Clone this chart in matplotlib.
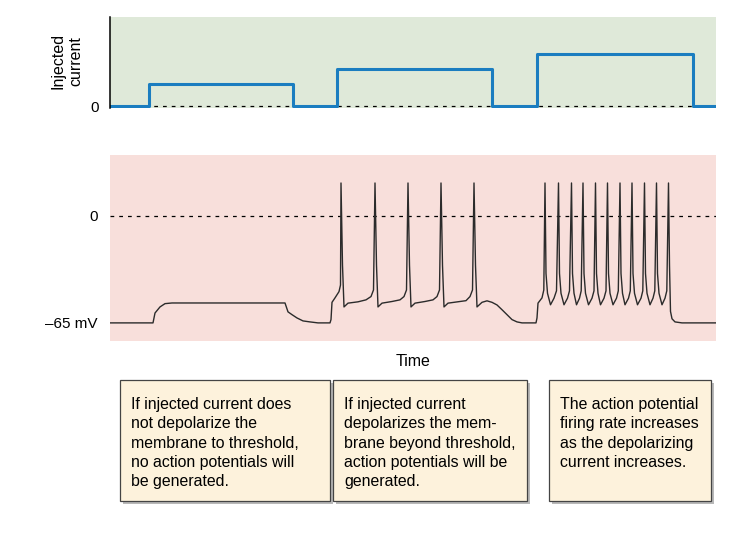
import matplotlib.pyplot as plt
from matplotlib.patches import Rectangle

plt.rcParams['font.family'] = ['Liberation Sans', 'DejaVu Sans']

# Injected current steps (time units, arbitrary current units)
step_edges = [0, 39, 183, 227, 382, 427, 583, 606]
step_levels = [0, 1.0, 0, 1.7, 0, 2.4, 0, 0]

# Membrane potential trace (time, mV)
v_time = [
    # subthreshold step
    0, 43, 45, 50, 55, 62, 175, 178, 182, 187, 193, 200, 208, 220,
    # second step: 5 spikes
    221, 222, 225, 229, 230.5,
    231, 232.5, 234, 238, 248, 256, 261, 263.5,
    265, 266.5, 268, 272, 282, 290, 294, 296.5,
    298, 299.5, 301, 305, 315, 323, 327, 329.5,
    331, 332.5, 334, 338, 348, 356, 360, 362.5,
    364, 365.5, 367, 372, 377, 382, 387, 392, 397, 402, 407, 412, 426,
    # third step: 11 spikes
    427, 428, 432, 433.8,
    435, 436, 437.5, 440.5, 444, 446.5,
    448.5, 449.5, 451, 454, 457.5, 459.5,
    461.5, 462.5, 464, 466.5, 469.5, 471.2,
    473, 474, 475.5, 478.5, 482, 484,
    485.5, 486.5, 488, 490.5, 494, 496,
    497.5, 498.5, 500, 503, 506.5, 508.3,
    510, 511, 512.5, 515, 518.5, 520.3,
    522, 523, 524.5, 527.5, 531, 532.8,
    534.5, 535.5, 537, 540, 543, 544.8,
    546.5, 547.5, 549, 552, 555, 556.8,
    558.5, 559.5, 560.5, 562, 565, 572, 606,
]
v_mv = [
    -65, -65, -59, -55.3, -53.3, -52.9, -52.9, -58.3, -60, -62, -63.8, -64.4, -65, -65,
    -63, -52.5, -49.8, -46, -42,
    20, -30, -55.3, -53, -52.2, -51, -49, -45,
    20, -30, -55.3, -53, -52, -51, -49, -45,
    20, -30, -55.3, -53, -52, -51, -49, -45,
    20, -30, -55.3, -53, -52.2, -51.5, -49, -45,
    20, -30, -55.3, -52.5, -51.6, -52.5, -54.1, -57, -60, -63, -64.4, -65, -65,
    -62, -53, -49.8, -45,
    20, -35, -47, -54, -50, -45.5,
    20, -35, -47, -54, -50, -45.5,
    20, -35, -47, -54, -50, -45.5,
    20, -35, -47, -54, -50, -45.5,
    20, -35, -47, -54, -50, -45.5,
    20, -35, -47, -54, -50, -45.5,
    20, -35, -47, -54, -50, -45.5,
    20, -35, -47, -54, -50, -45.5,
    20, -35, -47, -54, -50, -45.5,
    20, -35, -47, -54, -50, -45.5,
    20, -30, -58, -62.5, -64.4, -65, -65,
]

notes = [
    "If injected current does\nnot depolarize the\nmembrane to threshold,\nno action potentials will\nbe generated.",
    "If injected current\ndepolarizes the mem-\nbrane beyond threshold,\naction potentials will be\ngenerated.",
    "The action potential\nfiring rate increases\nas the depolarizing\ncurrent increases.",
]

W, H = 738, 537
fig = plt.figure(figsize=(W / 100, H / 100), dpi=100)


def fx(px):
    return px / W


def fy(py):
    return 1 - py / H


# top panel: injected current
ax1 = fig.add_axes([fx(110), fy(108), fx(606), 91 / H])
ax1.set_facecolor('#dfe9d9')
ax1.axhline(0, color='black', lw=0.9, ls=(0, (3, 4)))
ax1.plot(step_edges, step_levels, drawstyle='steps-post', color='#1b7dc0', lw=2.2)
ax1.set_xlim(0, 606)
ax1.set_ylim(-0.07, 4.07)
for s in ['top', 'right', 'bottom']:
    ax1.spines[s].set_visible(False)
ax1.spines['left'].set_linewidth(1.1)
ax1.set_xticks([])
ax1.set_yticks([0])
ax1.set_yticklabels(['0'], fontsize=11)
ax1.tick_params(axis='y', length=0, pad=8)

fig.text(fx(67), fy(61), "Injected\ncurrent", rotation=90, ha='center', va='center',
         fontsize=11.5, multialignment='center', linespacing=1.3)

# bottom panel: membrane potential
ax2 = fig.add_axes([fx(110), fy(341), fx(606), 186 / H])
ax2.set_facecolor('#f8dfdb')
ax2.axhline(0, color='black', lw=0.9, ls=(0, (3, 4)))
ax2.plot(v_time, v_mv, color='#2b2b2b', lw=1.0)
ax2.set_xlim(0, 606)
ax2.set_ylim(-76, 37)
for s in ax2.spines.values():
    s.set_visible(False)
ax2.set_xticks([])
ax2.set_yticks([0, -65])
ax2.set_yticklabels(['0', '\u201365 mV'], fontsize=11)
ax2.tick_params(axis='y', length=0, pad=9)

fig.text(fx(413), fy(361), "Time", ha='center', va='center', fontsize=11.5)

# explanation boxes
boxes = [(120, 330), (333, 527), (549, 711)]
for (x0, x1), note in zip(boxes, notes):
    shadow = Rectangle((fx(x0 + 3), fy(504)), fx(x1 - x0), 121 / H,
                       transform=fig.transFigure, facecolor='#b8b8b8', edgecolor='none')
    box = Rectangle((fx(x0), fy(501)), fx(x1 - x0), 121 / H,
                    transform=fig.transFigure, facecolor='#fdf2dc', edgecolor='#444444', lw=0.9)
    fig.patches.extend([shadow, box])
    fig.text(fx(x0 + 11), fy(397), note, ha='left', va='top', fontsize=11.4, linespacing=1.36)

fig.savefig('out.png', dpi=100)
